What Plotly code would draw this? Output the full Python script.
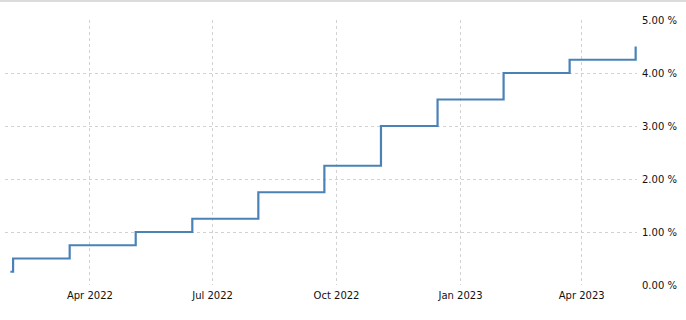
import plotly.graph_objects as go

dates = ["2022-02-01", "2022-02-03", "2022-03-17", "2022-05-05", "2022-06-16",
         "2022-08-04", "2022-09-22", "2022-11-03", "2022-12-15", "2023-02-02",
         "2023-03-23", "2023-05-11"]
rates = [0.25, 0.50, 0.75, 1.00, 1.25, 1.75, 2.25, 3.00, 3.50, 4.00, 4.25, 4.50]

y_ticks = [0, 1, 2, 3, 4, 5]
y_labels = ["0.00 %", "1.00 %", "2.00 %", "3.00 %", "4.00 %", "5.00 %"]
x_ticks = ["2022-04-01", "2022-07-01", "2022-10-01", "2023-01-01", "2023-04-01"]
x_labels = ["Apr 2022", "Jul 2022", "Oct 2022", "Jan 2023", "Apr 2023"]

fig = go.Figure()
fig.add_trace(go.Scatter(x=dates, y=rates, mode="lines", line_shape="hv",
                         line=dict(color="#4a82b8", width=2.2), hoverinfo="x+y"))

fig.update_layout(
    width=686, height=320,
    margin=dict(l=5, r=49, t=20, b=35),
    paper_bgcolor="white", plot_bgcolor="white",
    showlegend=False,
    font=dict(family="DejaVu Sans", size=10, color="#111"),
    xaxis=dict(range=["2022-01-28", "2023-05-12"], tickvals=x_ticks, ticktext=x_labels,
               showgrid=True, gridcolor="#d2d2d2", griddash="dot", gridwidth=1,
               zeroline=False, showline=False, ticks="", ticklabelstandoff=3),
    yaxis=dict(range=[0, 5], side="right", tickvals=y_ticks, ticktext=y_labels,
               showgrid=True, gridcolor="#d2d2d2", griddash="dot", gridwidth=1,
               zeroline=False, showline=False, ticks="", ticklabelstandoff=4),
)
fig.add_shape(type="line", xref="paper", yref="paper", x0=-0.02, x1=1.1,
              y0=1 + 19 / 265, y1=1 + 19 / 265, line=dict(color="#dcdcdc", width=2))

fig.write_html("out.html")
